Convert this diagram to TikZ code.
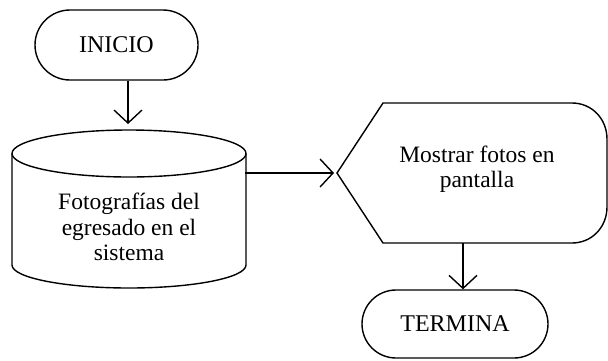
\documentclass[tikz,border=0pt]{standalone}
\usepackage{fontspec}
\setmainfont{Liberation Serif}
\usetikzlibrary{shapes.misc,arrows.meta}
\begin{document}
\begin{tikzpicture}[x=1pt,y=-1pt,
  shp/.style={draw=black,line width=1.4pt},
  lbl/.style={font=\fontsize{23.5}{25.5}\selectfont,align=center,inner sep=0pt},
  term/.style={shp,rounded rectangle,font=\fontsize{24}{25.5}\selectfont,inner sep=0pt},
  conn/.style={line width=1.4pt,-{Straight Barb[length=13pt,width=28pt,line width=1.4pt]}}]
\useasboundingbox (0,0) rectangle (608,360);
% INICIO
\node[term,minimum width=163pt,minimum height=70pt] (ini) at (116.5,45) {INICIO};
% cylinder
\draw[shp] (129,153.5) ellipse [x radius=117, y radius=23.5];
\draw[shp] (12,153.5) -- (12,265) arc[start angle=180,end angle=360,x radius=117,y radius=-23] -- (246,153.5);
\node[lbl] (cyl) at (129,227) {Fotografías del\\egresado en el\\sistema};
\coordinate (cyltop) at (128,124);
\coordinate (cylr) at (245,173);
% display
\draw[shp] (383,243) -- (337,173) -- (383,103) -- (572,103)
  .. controls (592,103) and (607,119) .. (607,139) -- (607,207)
  .. controls (607,227) and (592,243) .. (572,243) -- cycle;
\node[lbl] (disp) at (477,169) {Mostrar fotos en\\pantalla};
\coordinate (dispin) at (334,173);
\coordinate (dispb) at (463,243);
% TERMINA
\node[term,minimum width=186pt,minimum height=68pt] (fin) at (455,324) {TERMINA};
% connectors
\draw[conn] (ini.south -| cyltop) -- (cyltop);
\draw[conn] (cylr) -- (dispin);
\draw[conn] (dispb) -- (dispb |- fin.north);
\end{tikzpicture}
\end{document}
